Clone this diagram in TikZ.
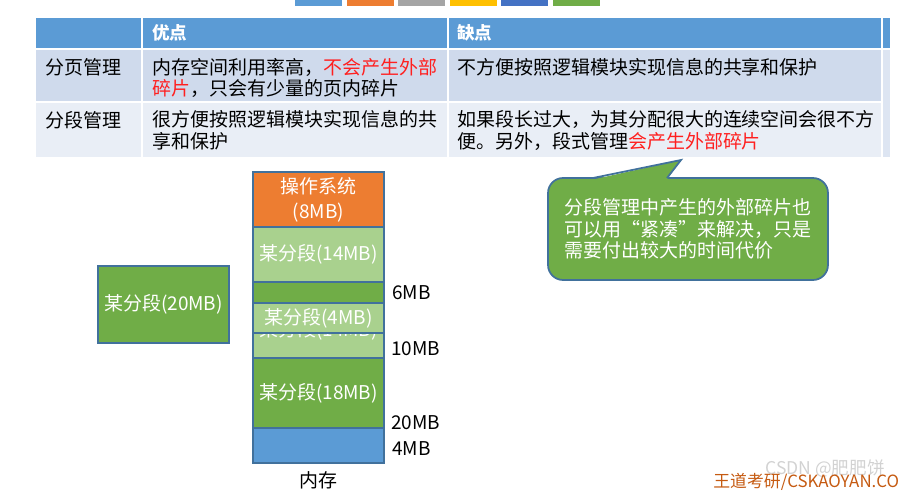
\documentclass[tikz,border=0pt]{standalone}
\usepackage{fontspec}
\setmainfont{Noto Sans CJK SC}
\usetikzlibrary{positioning}
\definecolor{wdhead}{HTML}{5B9BD5}
\definecolor{wdrowa}{HTML}{CFDAEC}
\definecolor{wdrowb}{HTML}{E9EEF6}
\definecolor{wdorange}{HTML}{ED7D31}
\definecolor{wdlight}{HTML}{A9D18E}
\definecolor{wdgreen}{HTML}{70AD47}
\definecolor{wdblue}{HTML}{5B9BD5}
\definecolor{wdedge}{HTML}{41719C}
\definecolor{wdred}{HTML}{FF2020}
\definecolor{wdwm}{HTML}{C55A11}
\definecolor{wdgray}{HTML}{A5A5A5}
\definecolor{wdgold}{HTML}{FFC000}
\definecolor{wddeep}{HTML}{4472C4}
\tikzset{
  cell/.style={inner sep=0pt, anchor=west, align=left},
  mem/.style={draw=wdedge, line width=0.6pt, minimum width=2.62cm, inner sep=0pt, text=white, align=center},
  sz/.style={anchor=west, inner sep=0pt},
  note/.style={draw=wdedge, line width=1pt, fill=wdgreen, rounded corners=0.3cm, text=white, align=left,
    minimum width=5.6cm, minimum height=2.04cm, inner sep=0pt},
}

\begin{document}
\begin{tikzpicture}[x=0.02cm, y=-0.02cm, font=\fontsize{10.8}{12.3}\selectfont]
  \useasboundingbox (0,0) rectangle (911,493);
  \foreach \c [count=\i] in {wdhead,wdorange,wdgray,wdgold,wddeep,wdgreen}
    \fill[\c] ({295+51.5*(\i-1)},0) rectangle +(47,6);
  \foreach \a/\b in {36/141,143/447,449/881,883/890} \fill[wdhead] (\a,18) rectangle (\b,48);
  \foreach \a/\b in {36/141,143/447,449/881} {
    \fill[wdrowa] (\a,50) rectangle (\b,101);
    \fill[wdrowb] (\a,103) rectangle (\b,157);
  }
  \fill[wdrowa!70] (883,50) rectangle (890,157);
  \node[cell, text=white, font=\bfseries] (h1) at (152,33) {优点};
  \node[cell, text=white, font=\bfseries] (h2) at (457,33) {缺点};
  \node[cell] (p0) at (45,67) {分页管理};
  \node[cell] (p1) at (152,78) {内存空间利用率高，\textcolor{wdred}{不会产生外部}\\\textcolor{wdred}{碎片}，只会有少量的页内碎片};
  \node[cell] (p2) at (457,67) {不方便按照逻辑模块实现信息的共享和保护};
  \node[cell] (s0) at (45,120) {分段管理};
  \node[cell] (s1) at (152,130.5) {很方便按照逻辑模块实现信息的共\\享和保护};
  \node[cell] (s2) at (457,130.5) {如果段长过大，为其分配很大的连续空间会很不方\\便。另外，段式管理\textcolor{wdred}{会产生外部碎片}};

  \node[mem, fill=wdorange, minimum height=1.1cm] (os) at (318.5,199.5) {操作系统\\[2pt](8MB)};
  \node[mem, fill=wdlight, minimum height=1.1cm] (segA) at (318.5,254.5) {某分段(14MB)};
  \node[mem, fill=wdgreen, minimum height=0.42cm] (gap) at (318.5,292.5) {};
  \node[mem, fill=wdlight, minimum height=1.1cm] (segB) at (318.5,330.5) {某分段(14MB)};
  \node[mem, fill=wdlight, minimum height=0.6cm] (segC) at (318.5,318) {某分段(4MB)};
  \node[mem, fill=wdgreen, minimum height=1.4cm] (segD) at (318.5,393) {某分段(18MB)};
  \node[mem, fill=wdblue, minimum height=0.7cm] (free) at (318.5,445.5) {};
  \node (mem) at (318.5,480) {内存};
  \node[sz] (l6) at (392,293) {6MB};
  \node[sz] (l10) at (391,349) {10MB};
  \node[sz] (l20) at (391,423) {20MB};
  \node[sz] (l4) at (392,449) {4MB};
  \node[mem, fill=wdgreen, minimum height=1.54cm] (segE) at (163.5,304.5) {某分段(20MB)};

  \node[note] (tip) at (688,229) {分段管理中产生的外部碎片也\\可以用“紧凑”来解决，只是\\需要付出较大的时间代价};
  \coordinate (peak) at (681,160);
  \fill[wdgreen] (593,179.5) -- (peak) -- (667,179.5) -- cycle;
  \draw[wdedge, line width=1pt] (593,178) -- (peak) -- (667,178);

  \node[text=gray!35, sz, font=\fontsize{10}{12}\selectfont] (csdn) at (765,469) {CSDN @肥肥饼};
  \node[text=wdwm, sz, font=\fontsize{9.6}{12}\selectfont] (wm) at (713,482) {王道考研/CSKAOYAN.CO};
\end{tikzpicture}
\end{document}
